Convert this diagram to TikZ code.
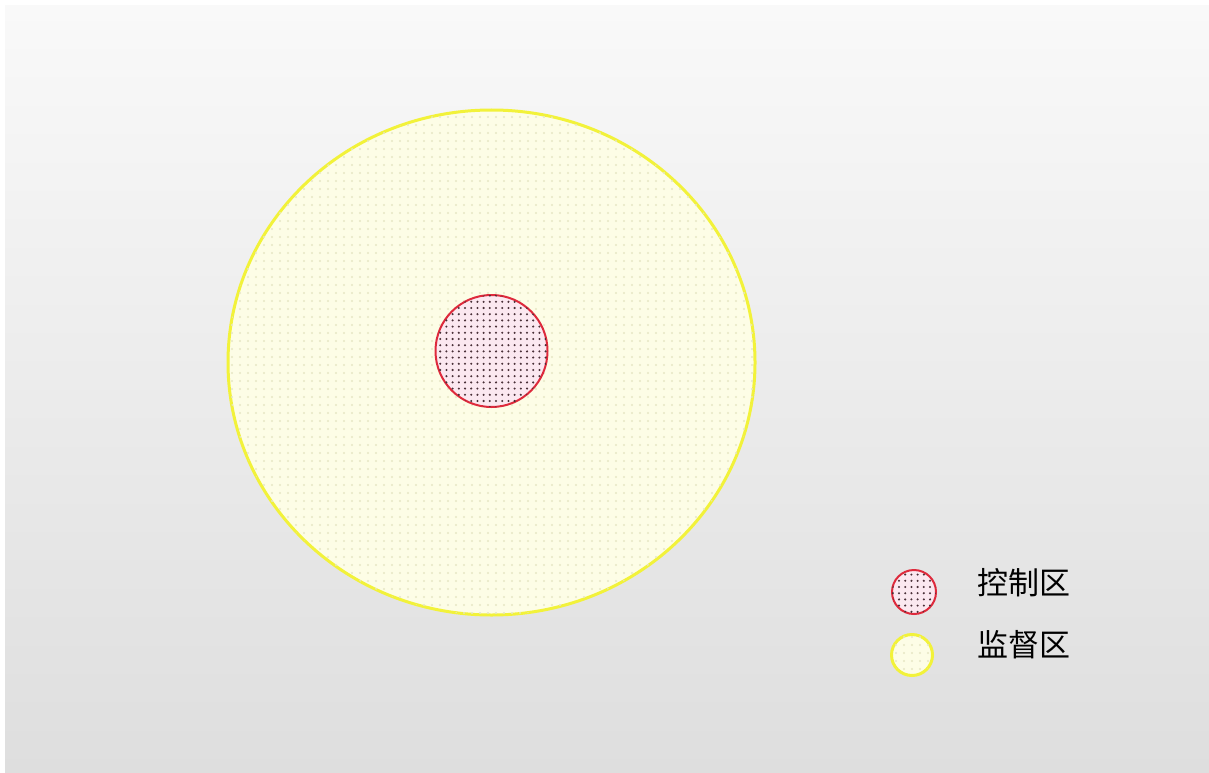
\documentclass[tikz,border=0pt]{standalone}
\usepackage{fontspec}
\newfontfamily\cjk{Noto Sans CJK SC}
\usetikzlibrary{patterns}
\pgfdeclarepatternformonly{reddots}{\pgfqpoint{-2pt}{-2pt}}{\pgfqpoint{8pt}{8pt}}{\pgfqpoint{6.2pt}{6.2pt}}{%
  \pgfpathcircle{\pgfqpoint{0pt}{0pt}}{1.15pt}\pgfusepath{fill}}
\pgfdeclarepatternformonly{yellowdots}{\pgfqpoint{-2pt}{-2pt}}{\pgfqpoint{9pt}{9pt}}{\pgfqpoint{8pt}{8pt}}{%
  \pgfpathcircle{\pgfqpoint{0pt}{0pt}}{1.1pt}\pgfusepath{fill}}
\definecolor{bgtop}{HTML}{F9F9F9}
\definecolor{bgbot}{HTML}{DEDEDE}
\definecolor{yelline}{HTML}{F2F23A}
\definecolor{yelfill}{HTML}{FDFDE6}
\definecolor{yeldot}{HTML}{E6E6C4}
\definecolor{redline}{HTML}{DE2A3C}
\definecolor{redfill}{HTML}{FBE8F0}
\definecolor{reddot}{HTML}{4A3038}
\begin{document}
\begin{tikzpicture}[x=1pt,y=-1pt,
  monitor/.style={draw=yelline,line width=3pt,fill=yelfill,postaction={pattern=yellowdots,pattern color=yeldot}},
  control/.style={draw=redline,line width=2pt,fill=redfill,postaction={pattern=reddots,pattern color=reddot}},
  legendtext/.style={anchor=west,inner sep=0pt,font=\cjk\fontsize{31}{34}\selectfont,text=black}]
\useasboundingbox (0,0) rectangle (1209,773);
\fill[white] (0,0) rectangle (1209,773);
\shade[top color=bgtop,bottom color=bgbot] (5,6) rectangle (1209,773);
% zones
\path[monitor] (491.5,362.5) ellipse [x radius=263.5, y radius=252.5];
\path[control] (491.5,351) circle [radius=56];
% legend
\path[control] (914,592) circle [radius=22];
\path[monitor] (912,655) circle [radius=20.5];
\node[legendtext] (ctl) at (977,583) {控制区};
\node[legendtext] (mon) at (977,645) {监督区};
\end{tikzpicture}
\end{document}
